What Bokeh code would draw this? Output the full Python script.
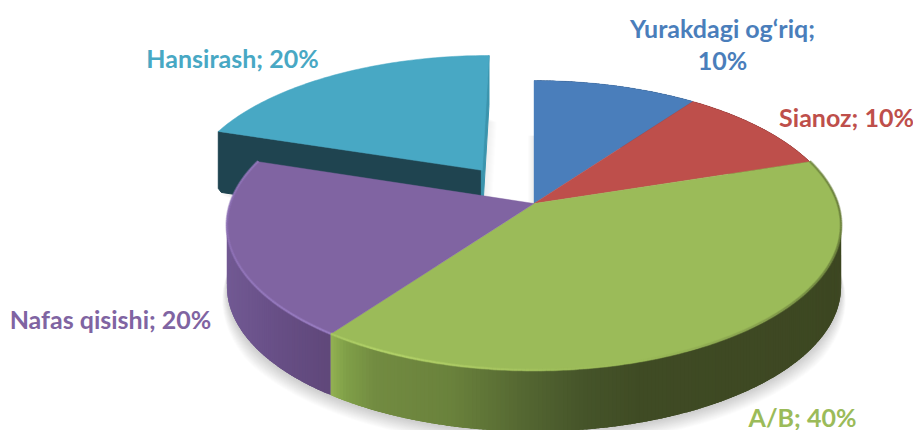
import math
from bokeh.plotting import figure
from bokeh.models import Range1d
from bokeh.core.properties import value
from bokeh.embed import file_html
from bokeh.resources import INLINE

categories = ["Yurakdagi og\u2018riq", "Sianoz", "A/B", "Nafas qisishi", "Hansirash"]
shares = [10, 10, 40, 20, 20]
colors = ["#4A7EBB", "#BE4F4B", "#9BBB59", "#8064A2", "#48A8C4"]
explode = [0, 0, 0, 0, 0.3]

# label layout (pixels)
label_text = ["Yurakdagi og\u2018riq;", "10%", "Sianoz; 10%", "A/B; 40%", "Nafas qisishi; 20%", "Hansirash; 20%"]
label_x = [722, 722, 846, 802, 110, 232]
label_y = [27, 59, 116, 416, 318, 57]
label_col = [colors[0], colors[0], colors[1], colors[2], colors[3], colors[4]]

# projection of the tilted disc
CX, CY, A, B, K, DEPTH = 533.5, 203, 303.5, 141.6, 0.152, 61


def proj(u, v):
    d = 1 + K * v
    return CX + A * u / d, CY - B * v / d


def rim(theta_deg, off=(0.0, 0.0)):
    t = math.radians(theta_deg)
    return proj(math.sin(t) + off[0], math.cos(t) + off[1])


def lerp_color(stops, x):
    if x <= stops[0][0]:
        return stops[0][1]
    for (x0, c0), (x1, c1) in zip(stops, stops[1:]):
        if x <= x1:
            f = (x - x0) / (x1 - x0)
            a = [int(c0[i:i + 2], 16) for i in (1, 3, 5)]
            b = [int(c1[i:i + 2], 16) for i in (1, 3, 5)]
            return "#%02x%02x%02x" % tuple(round(p + (q - p) * f) for p, q in zip(a, b))
    return stops[-1][1]


side_stops = {
    "A/B": [(331, "#92b052"), (345, "#80a048"), (375, "#728b41"), (450, "#6a823c"),
            (520, "#556832"), (580, "#46552a"), (640, "#3f4b24"), (840, "#3d4722")],
    "Nafas qisishi": [(225, "#725a94"), (280, "#674e85"), (333, "#5f4779")],
    "Sianoz": [(690, "#5a2422"), (840, "#5a2422")],
    "Yurakdagi og\u2018riq": [(530, "#2a4668"), (700, "#2a4668")],
    "Hansirash": [(210, "#1f4450"), (490, "#1f4450")],
}
rim_stops = {
    "A/B": [(331, "#a8c862"), (380, "#b4d46a"), (470, "#acca64"), (560, "#9fbf5b"),
            (640, "#9bbb59"), (760, "#869f4e"), (840, "#6a7f3c")],
    "Nafas qisishi": [(225, "#8d70b4"), (250, "#9478bc"), (333, "#9a7ec4")],
}

# slice angles from the shares
angles = []
acc = 0.0
for s in shares:
    angles.append((acc * 3.6, (acc + s) * 3.6))
    acc += s

p = figure(width=913, height=430, x_range=Range1d(0, 913), y_range=Range1d(430, 0),
           toolbar_location=None, tools="", output_backend="svg", min_border=0)
p.axis.visible = False
p.grid.visible = False
p.outline_line_color = None
p.background_fill_color = "#ffffff"
p.border_fill_color = "#ffffff"


def sector(a0, a1, off=(0.0, 0.0)):
    n = max(8, int(a1 - a0))
    pts = [proj(off[0], off[1])]
    pts += [rim(a0 + (a1 - a0) * i / n, off) for i in range(n + 1)]
    return [q[0] for q in pts], [q[1] for q in pts]


# soft ground shadow of the main pie (front half, tapering out at the sides)
for e in range(16, 0, -1):
    xs, ys = [], []
    for i in range(61):
        th = 90 + i * 3.0
        q = rim(th)
        t = math.radians(th)
        f = min(1.0, (th - 90) / 35.0, (270 - th) / 35.0)
        xs.append(q[0] + e * f * math.sin(t))
        ys.append(q[1] + DEPTH + 1 + e * f * (-math.cos(t)) * 0.9)
    p.patch(xs, ys, fill_color="#000000", fill_alpha=0.012, line_color=None)

# exploded slice
iH = categories.index("Hansirash")
a0, a1 = angles[iH]
mid = math.radians((a0 + a1) / 2)
off = (explode[iH] * math.sin(mid), explode[iH] * math.cos(mid))
hx, hy = sector(a0, a1, off)

# shadows in the gap and under the exploded slice
for k in range(1, 9):
    p.patch([x + k for x in hx], [y + DEPTH + 2 + k * 0.4 for y in hy],
            fill_color="#000000", fill_alpha=0.008, line_color=None)
bx, by = sector(*angles[0])
for k in range(1, 7):
    p.patch([x - k for x in bx], [y + 55 for y in by],
            fill_color="#000000", fill_alpha=0.012, line_color=None)

# exploded slice: dark cut face, then right side, then top
fl = rim(a0, off)
apex = proj(*off)
tr = rim(a1, off)
p.patch([fl[0], apex[0], apex[0], fl[0] + 3, fl[0]],
        [fl[1], apex[1], apex[1] + DEPTH, fl[1] + DEPTH, fl[1] + DEPTH - 4],
        fill_color=side_stops["Hansirash"][0][1], line_color=side_stops["Hansirash"][0][1])
p.patch([apex[0] - 1, tr[0], tr[0], apex[0] - 1], [apex[1], tr[1], tr[1] + 50, apex[1] + DEPTH],
        fill_color="#3b94ad", line_color="#3b94ad")
p.patch(hx, hy, fill_color=colors[iH], line_color=colors[iH], line_width=0.5)

# curved side wall of the main pie, as overlapping strips shaded across the width
for name, (s0, s1) in zip(categories, angles):
    if name == "Hansirash":
        continue
    stops = side_stops[name]
    n = max(2, int((s1 - s0) * 1.5))
    for i in range(n):
        t0 = s0 + (s1 - s0) * i / n
        t1 = s0 + (s1 - s0) * (i + 1) / n
        t2 = min(s1, s0 + (s1 - s0) * (i + 2.5) / n)
        q0, q1, q2 = rim(t0), rim(t1), rim(t2)
        c = lerp_color(stops, (q0[0] + q1[0]) / 2)
        p.patch([q0[0], q1[0], q2[0], q2[0], q1[0], q0[0]],
                [q0[1], q1[1], q2[1], q2[1] + DEPTH, q1[1] + DEPTH, q0[1] + DEPTH],
                fill_color=c, line_color=None)

# top faces
for name, col, (s0, s1) in zip(categories, colors, angles):
    if name == "Hansirash":
        continue
    xs, ys = sector(s0, s1)
    p.patch(xs, ys, fill_color=col, line_color=col, line_width=0.4)

# bevel highlight along the front rim
for name, (s0, s1) in zip(categories, angles):
    if name not in rim_stops:
        continue
    stops = rim_stops[name]
    n = int((s1 - s0) * 1.5)
    seg_x, seg_y, seg_c = [], [], []
    for i in range(n):
        t0 = s0 + (s1 - s0) * i / n
        t1 = s0 + (s1 - s0) * (i + 1) / n
        q0, q1 = rim(t0), rim(t1)
        seg_x.append([q0[0], q1[0]])
        seg_y.append([q0[1] - 0.5, q1[1] - 0.5])
        seg_c.append(lerp_color(stops, (q0[0] + q1[0]) / 2))
    p.multi_line(seg_x, seg_y, line_color=seg_c, line_width=3, line_alpha=0.45)
    p.multi_line(seg_x, seg_y, line_color=seg_c, line_width=1.5, line_alpha=0.9)

# labels
p.text(x=label_x, y=label_y, text=label_text, text_color=label_col,
       text_font=value("Lato"), text_font_style="bold", text_font_size="25px",
       text_align="center", text_baseline="middle")

open("out.html", "w").write(file_html(p, INLINE))
